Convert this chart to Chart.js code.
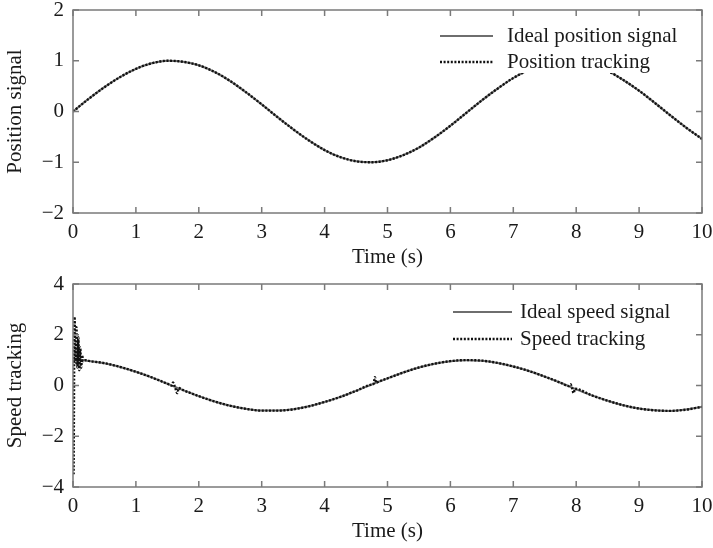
<!DOCTYPE html>
<html><head><meta charset="utf-8">
<script src="https://cdn.jsdelivr.net/npm/chart.js@4/dist/chart.umd.min.js"></script>
<style>
html,body{margin:0;padding:0;background:#fff;width:713px;height:548px;overflow:hidden}
.box{position:absolute;left:0;width:713px;height:274px}
#b1{top:0}#b2{top:274px}
</style></head><body>
<div class="box" id="b1"><canvas id="c1" width="713" height="274"></canvas></div>
<div class="box" id="b2"><canvas id="c2" width="713" height="274"></canvas></div>
<script>
// ---------- data ----------
const xTickValues = [0,1,2,3,4,5,6,7,8,9,10];
const xTickLabels = ['0','1','2','3','4','5','6','7','8','9','10'];
const posTickValues = [-2,-1,0,1,2];
const posTickLabels = ['\u22122','\u22121','0','1','2'];
const spdTickValues = [-4,-2,0,2,4];
const spdTickLabels = ['\u22124','\u22122','0','2','4'];

const timeGrid = [0,0.25,0.5,0.75,1,1.25,1.5,1.75,2,2.25,2.5,2.75,3,3.25,3.5,3.75,4,4.25,4.5,4.75,5,
  5.25,5.5,5.75,6,6.25,6.5,6.75,7,7.25,7.5,7.75,8,8.25,8.5,8.75,9,9.25,9.5,9.75,10];

const idealPosition = [0,0.25,0.48,0.68,0.84,0.95,1.0,0.98,0.91,0.78,0.6,0.38,0.14,-0.11,-0.35,-0.57,-0.76,-0.9,-0.98,-1.0,-0.96,
  -0.86,-0.71,-0.51,-0.28,-0.03,0.22,0.45,0.66,0.82,0.94,0.99,0.99,0.92,0.8,0.62,0.41,0.17,-0.08,-0.32,-0.54];
const trackPosition = [0,0.25,0.48,0.68,0.84,0.95,1.0,0.98,0.91,0.78,0.6,0.38,0.14,-0.11,-0.35,-0.57,-0.76,-0.9,-0.98,-1.0,-0.96,
  -0.86,-0.71,-0.51,-0.28,-0.03,0.22,0.45,0.66,0.82,0.94,0.99,0.99,0.92,0.8,0.62,0.41,0.17,-0.08,-0.32,-0.54];

const idealSpeed = [1.0,0.97,0.88,0.73,0.54,0.32,0.07,-0.18,-0.42,-0.63,-0.8,-0.92,-0.99,-0.99,-0.94,-0.82,-0.65,-0.45,-0.21,0.04,0.28,
  0.51,0.71,0.86,0.96,1.0,0.98,0.89,0.75,0.57,0.35,0.11,-0.15,-0.39,-0.6,-0.78,-0.91,-0.98,-1.0,-0.95,-0.84];

const trackSpeedTime = [0.01,0.025,0.04,0.055,0.07,0.085,0.1,0.115,0.13,0.145,0.16,0.2,0.25,0.5,0.75,1,1.25,1.5,1.57,1.59,1.62,1.66,1.68,1.75,
  2,2.25,2.5,2.75,3,3.25,3.5,3.75,4,4.25,4.5,4.75,4.78,4.8,4.82,4.85,5,5.25,5.5,5.75,6,6.25,6.5,6.75,7,7.25,7.5,7.75,
  7.88,7.91,7.93,7.96,7.98,8.25,8.5,8.75,9,9.25,9.5,9.75,10];
const trackSpeed = [-3.5,2.7,0.9,2.3,0.7,1.9,0.6,1.5,0.7,1.2,0.95,1.0,0.97,0.88,0.73,0.54,0.32,0.07,0.0,0.12,-0.05,-0.3,-0.1,-0.18,
  -0.42,-0.63,-0.8,-0.92,-0.99,-0.99,-0.94,-0.82,-0.65,-0.45,-0.21,0.04,0.07,0.33,0.1,0.14,0.28,0.51,0.71,0.86,0.96,1.0,0.98,0.89,0.75,0.57,0.35,0.11,
  -0.02,0.05,-0.06,-0.3,-0.13,-0.39,-0.6,-0.78,-0.91,-0.98,-1.0,-0.95,-0.84];

const legendPos = ['Ideal position signal','Position tracking'];
const legendSpd = ['Ideal speed signal','Speed tracking'];

// ---------- helpers ----------
const FONT = 'Liberation Serif, Times New Roman, serif';
const FS = 21;
const pts = (xs, ys) => xs.map((x, i) => ({x, y: ys[i]}));

const framePlugin = {
  id: 'frame',
  afterDraw(chart) {
    const {ctx, chartArea: a, scales: {x, y}} = chart;
    ctx.save();
    ctx.strokeStyle = '#7a7a7a';
    ctx.lineWidth = 1.5;
    ctx.strokeRect(a.left, a.top, a.right - a.left, a.bottom - a.top);
    const L = 6;
    ctx.beginPath();
    x.ticks.forEach(t => {
      const px = x.getPixelForValue(t.value);
      ctx.moveTo(px, a.bottom); ctx.lineTo(px, a.bottom - L);
      ctx.moveTo(px, a.top); ctx.lineTo(px, a.top + L);
    });
    y.ticks.forEach(t => {
      const py = y.getPixelForValue(t.value);
      ctx.moveTo(a.left, py); ctx.lineTo(a.left + L, py);
      ctx.moveTo(a.right, py); ctx.lineTo(a.right - L, py);
    });
    ctx.stroke();
    ctx.restore();
  }
};

const legendPlugin = {
  id: 'insideLegend',
  afterDatasetsDraw(chart, args, o) {
    const {ctx} = chart;
    ctx.save();
    ctx.fillStyle = '#fff';
    ctx.fillRect(o.box[0], o.box[1], o.box[2] - o.box[0], o.box[3] - o.box[1]);
    chart.data.datasets.forEach((ds, i) => {
      const yy = o.rows[i];
      ctx.strokeStyle = ds.borderColor;
      ctx.lineWidth = ds.borderWidth;
      ctx.setLineDash(ds.borderDash || []);
      ctx.beginPath();
      ctx.moveTo(o.x0, yy); ctx.lineTo(o.x1, yy);
      ctx.stroke();
      ctx.setLineDash([]);
      ctx.fillStyle = '#1a1a1a';
      ctx.font = FS + 'px ' + FONT;
      ctx.textBaseline = 'middle';
      ctx.textAlign = 'left';
      ctx.fillText(ds.label, o.tx, yy);
    });
    ctx.restore();
  }
};

function makeChart(id, datasets, yMin, yMax, yVals, yLabels, yTitle, legend) {
  return new Chart(document.getElementById(id), {
    type: 'line',
    data: {datasets},
    plugins: [legendPlugin, framePlugin],
    options: {
      responsive: false,
      animation: false,
      events: [],
      layout: {padding: {top: 10, right: 11, left: 0, bottom: 0}},
      elements: {point: {radius: 0}, line: {cubicInterpolationMode: 'monotone'}},
      plugins: {legend: {display: false}, tooltip: {enabled: false}, insideLegend: legend},
      scales: {
        x: {
          type: 'linear', min: 0, max: 10,
          afterFit: s => { s.height = 61; s.paddingLeft = 0; s.paddingRight = 11; },
          afterBuildTicks: s => { s.ticks = xTickValues.map(v => ({value: v})); },
          grid: {display: false, drawTicks: false},
          border: {display: false},
          ticks: {padding: 7, color: '#1a1a1a', font: {family: FONT, size: FS},
            autoSkip: false, maxRotation: 0,
            callback: v => xTickLabels[xTickValues.indexOf(v)] ?? ''},
          title: {display: true, text: 'Time (s)', color: '#1a1a1a',
            font: {family: FONT, size: FS}, padding: {top: 0, bottom: 4}}
        },
        y: {
          min: yMin, max: yMax,
          afterFit: s => { s.width = 73; s.paddingTop = 0; s.paddingBottom = 0; },
          afterBuildTicks: s => { s.ticks = yVals.map(v => ({value: v})); },
          grid: {display: false, drawTicks: false},
          border: {display: false},
          ticks: {padding: 9, color: '#1a1a1a', font: {family: FONT, size: FS},
            callback: v => yLabels[yVals.indexOf(v)] ?? ''},
          title: {display: true, text: yTitle, color: '#1a1a1a',
            font: {family: FONT, size: FS}, padding: {top: 3, bottom: 0}}
        }
      }
    }
  });
}

makeChart('c1', [
  {label: legendPos[0], data: pts(timeGrid, idealPosition), borderColor: '#6e6e6e', borderWidth: 2, order: 1},
  {label: legendPos[1], data: pts(timeGrid, trackPosition), borderColor: '#111', borderWidth: 2.4, borderDash: [2, 1.6], order: 0}
], -2, 2, posTickValues, posTickLabels, 'Position signal',
  {x0: 440, x1: 493, tx: 507, rows: [36, 62], box: [430, 22, 700, 73]});

makeChart('c2', [
  {label: legendSpd[0], data: pts(timeGrid, idealSpeed), borderColor: '#6e6e6e', borderWidth: 2, order: 1},
  {label: legendSpd[1], data: pts(trackSpeedTime, trackSpeed), borderColor: '#111', borderWidth: 2.4, borderDash: [2, 1.6], order: 0}
], -4, 4, spdTickValues, spdTickLabels, 'Speed tracking',
  {x0: 453, x1: 512, tx: 520, rows: [38, 65], box: [443, 25, 700, 78]});
</script></body></html>
